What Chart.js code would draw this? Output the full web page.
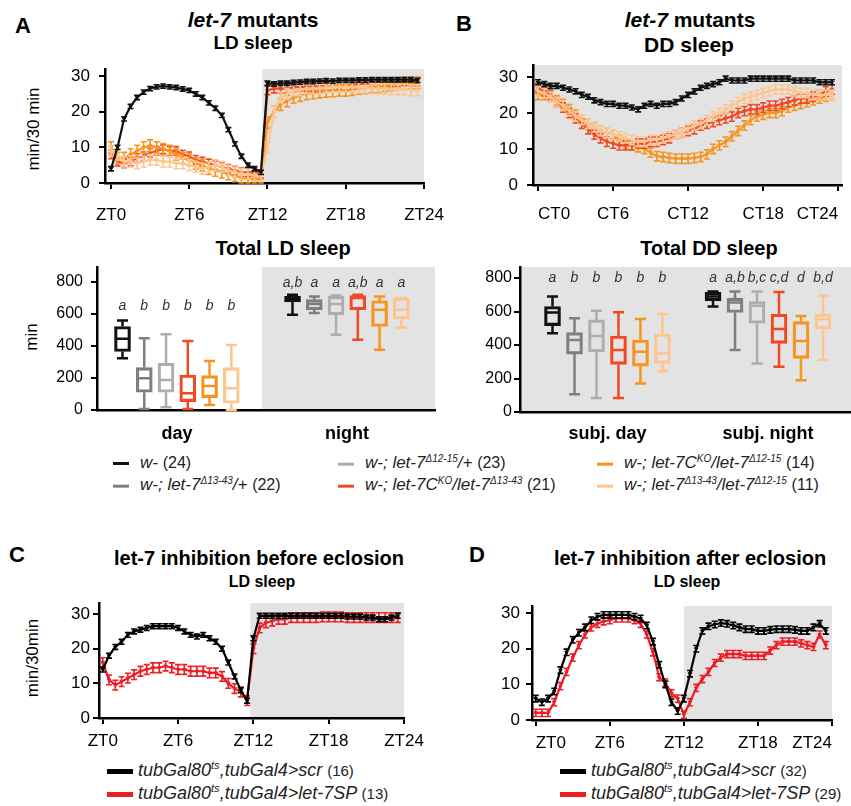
<!DOCTYPE html>
<html lang="en">
<head>
<meta charset="UTF-8">
<title>let-7 sleep</title>
<style>
  body { margin: 0; background: #fff; font-family: "Liberation Sans", Arial, sans-serif; color: #000; }
  #fig { position: relative; width: 851px; height: 806px; overflow: hidden; }
  canvas { position: absolute; }
  .t { position: absolute; transform: translate(-50%, -50%); white-space: nowrap; font-weight: bold; }
  .pl { position: absolute; transform: translate(-50%, -50%); font-weight: bold; font-size: 22px; }
  .ylab { position: absolute; transform: translate(-50%, -50%) rotate(-90deg); white-space: nowrap; font-size: 17px; }
  .leg { position: absolute; white-space: nowrap; font-size: 17px; font-style: italic; transform: translateY(-50%); color: #222; }
  .leg .sw { display: inline-block; width: 16px; height: 3px; vertical-align: middle; margin-right: 11px; }
  .leg .n { font-style: normal; font-size: 16px; }
  .leg sup { font-size: 10px; }
  .leg2 { font-size: 18px; }
  .leg2 .sw { width: 26px; height: 5px; margin-right: 5px; }
  .leg2 .n { font-size: 15px; }
  .leg2 sup { font-size: 11px; }
</style>
</head>
<body>
<div id="fig">
  <div class="pl" style="left:23px;top:26px">A</div>
  <div class="t" style="left:253px;top:20px;font-size:21px"><i>let-7</i> mutants</div>
  <div class="t" style="left:253px;top:43px;font-size:19px">LD sleep</div>
  <div class="ylab" style="left:34px;top:129px">min/30 min</div>

  <div class="pl" style="left:464px;top:24px">B</div>
  <div class="t" style="left:690px;top:20px;font-size:21px"><i>let-7</i> mutants</div>
  <div class="t" style="left:689px;top:45px;font-size:21px">DD sleep</div>

  <div class="t" style="left:283px;top:248px;font-size:20px">Total LD sleep</div>
  <div class="ylab" style="left:32px;top:337px">min</div>
  <div class="t" style="left:709px;top:248px;font-size:20px">Total DD sleep</div>

  <div class="leg" style="left:113px;top:463px"><span class="sw" style="background:#111"></span>w- <span class="n">(24)</span></div>
  <div class="leg" style="left:113px;top:485px"><span class="sw" style="background:#7f7f7f"></span>w-; let-7<sup>Δ13-43</sup>/+ <span class="n">(22)</span></div>
  <div class="leg" style="left:338px;top:463px"><span class="sw" style="background:#adadad"></span>w-; let-7<sup>Δ12-15</sup>/+ <span class="n">(23)</span></div>
  <div class="leg" style="left:338px;top:485px"><span class="sw" style="background:#ef4a24"></span>w-; let-7C<sup>KO</sup>/let-7<sup>Δ13-43</sup> <span class="n">(21)</span></div>
  <div class="leg" style="left:597px;top:463px"><span class="sw" style="background:#f7941d"></span>w-; let-7C<sup>KO</sup>/let-7<sup>Δ12-15</sup> <span class="n">(14)</span></div>
  <div class="leg" style="left:597px;top:485px"><span class="sw" style="background:#fdc58f"></span>w-; let-7<sup>Δ13-43</sup>/let-7<sup>Δ12-15</sup> <span class="n">(11)</span></div>

  <div class="pl" style="left:17px;top:555px">C</div>
  <div class="t" style="left:259px;top:558px;font-size:20px">let-7 inhibition before eclosion</div>
  <div class="t" style="left:262px;top:582px;font-size:16px">LD sleep</div>
  <div class="ylab" style="left:33px;top:658px">min/30min</div>
  <div class="leg leg2" style="left:107px;top:770px"><span class="sw" style="background:#000"></span>tubGal80<sup>ts</sup>,tubGal4&gt;scr <span class="n">(16)</span></div>
  <div class="leg leg2" style="left:107px;top:793px"><span class="sw" style="background:#ee1c25"></span>tubGal80<sup>ts</sup>,tubGal4&gt;let-7SP <span class="n">(13)</span></div>

  <div class="pl" style="left:477px;top:555px">D</div>
  <div class="t" style="left:690px;top:558px;font-size:20px">let-7 inhibition after eclosion</div>
  <div class="t" style="left:687px;top:582px;font-size:16px">LD sleep</div>
  <div class="leg leg2" style="left:560px;top:770px"><span class="sw" style="background:#000"></span>tubGal80<sup>ts</sup>,tubGal4&gt;scr <span class="n">(32)</span></div>
  <div class="leg leg2" style="left:560px;top:793px"><span class="sw" style="background:#ee1c25"></span>tubGal80<sup>ts</sup>,tubGal4&gt;let-7SP <span class="n">(29)</span></div>

  <canvas id="lineA"></canvas>
  <canvas id="lineB"></canvas>
  <canvas id="boxA"></canvas>
  <canvas id="boxB"></canvas>
  <canvas id="lineC"></canvas>
  <canvas id="lineD"></canvas>
</div>

<script src="https://cdn.jsdelivr.net/npm/chart.js"></script>
<script>
// half-hour bins
const hours = [0,0.5,1,1.5,2,2.5,3,3.5,4,4.5,5,5.5,6,6.5,7,7.5,8,8.5,9,9.5,10,10.5,11,11.5,
               12,12.5,13,13.5,14,14.5,15,15.5,16,16.5,17,17.5,18,18.5,19,19.5,20,20.5,21,21.5,22,22.5,23,23.5];
const hourTicks = [0, 6, 12, 18, 24];

// A: LD sleep, min/30 min
const ldBlack  = [4,10,18,21.5,24,25.5,26.5,27,27.2,27,26.8,26.4,26,25,24,22.5,21,19,15,11,7.5,5,4,3,
                  28,27.8,28,28,28.2,28.3,28.5,28.5,28.6,28.7,28.6,28.8,28.8,28.8,28.9,28.9,29,29,29,29,29,29,29,28.8];
const ldRed    = [8,6,5.5,6,7,7.5,8.5,9,9.5,9,9,8,7.5,6.5,6,5.5,5,4.5,4,3.5,3,3,3,2.5,
                  26,26.5,26.5,26.5,26.8,27,27,27,27.2,27.2,27.3,27.5,27.3,27.5,27.8,27.8,28,28,28.2,28.2,28.3,28.5,28.5,28.5];
const ldOrange = [10,7,7,8,9,10,10.5,10,9.5,9,8,7,6.5,5.5,5,4,3.5,3,2.5,2,1.5,1,1,1,
                  17,20,22,23,24,24.5,25,25.2,25.5,25.7,25.8,26,26,26.2,26.5,26.7,27,27,27.3,27.5,27.8,28,28,28];
const ldPeach  = [9,8,6,6,5.5,6,6.5,6.5,6,6,5.5,5.5,5,4.5,4,4.5,5,4.5,3.5,3,2.5,2.5,2,2,
                  10,20,24,25,26,26,26.5,26.5,26.5,26.8,27,27,27,27,26.8,26.8,26.5,26.5,26.5,26.3,26.3,26.2,26,26];

// B: DD sleep
const ddBlack  = [28.5,28,27.5,27.5,27,26.5,26,25,24.5,23.5,23,22.5,22.5,22,22,21.5,21,22,22.5,22,22.5,22.5,23,24,
                  25,26,27,27.5,28,28.5,29.5,29,29,29,29.5,29.5,29.5,29.5,29.5,29.5,29.5,29,29,29,29,28.5,28.5,28.5];
const ddRed    = [27,26,25,23,21.5,20,18.5,17,15.5,14,13,12,11.5,11,11,11,11.5,11.5,12,12,12.5,13,14,14.5,
                  15,15.5,16.5,17,17.5,18,18.5,19,20,20.5,21,21,21.5,22,22,22.5,23,23.5,24,24,24.5,25,26,26.5];
const ddOrange = [25,25,24.5,23.5,22.5,21,19.5,18,17,16,15,14.5,14,12.5,11.5,11,10.5,10,9,8,7.8,7.5,7.3,7.3,
                  7.3,7.5,7.8,8.5,10,11,12,13.5,15,16.5,18,19,19.5,20,20,20.5,21.5,22,22.5,23,23.5,24,24.5,25];
const ddPeach  = [26,25.5,24.5,23,22,20.5,19,18,17,16,15,14.5,14,13.5,13,12.5,12,12,12.5,12.5,13,13.5,14,14.5,
                  15.5,16.5,17,18,19,20,21,22,23,24,24.5,25,25.5,26,26.5,26.5,26.5,26,25.5,25.5,25,25,25,25];

// C: inhibition before eclosion
const befScr = [14,18,20.5,22,24,25,25.5,26,26.5,26.5,26.5,26.5,26,25,24,23.5,24,23,22,20,16,12,8,5,
                23,29.5,29.5,29.5,29.5,29.5,29.5,29.5,29.5,29.5,29.5,29.5,29.5,29.5,29.5,29.3,29.3,29.3,29,29,28.5,28.5,29,29.5];
const befSP  = [16,11,9.5,10.5,11.5,12.5,13.5,14,14.5,14.5,15,14.5,14,14,13.5,13.5,13.5,13,13,12,10,8.5,7.5,5,
                20,26,27.5,28,28.5,28.5,29,29,29,29,29,29.2,29.2,29.2,29.2,29,29,29,29,29,29,29,29,29];

// D: inhibition after eclosion
const aftScr = [6,5,6,8,14,19,22.5,24.5,26,28,29,29.5,29.5,29.5,29.5,29.5,29,28.5,26.5,22,15.5,10,5,2.5,
                6,13,20,25,26.3,26.8,27.2,27,26.5,26,25.5,25.5,25,25,25.3,25.5,25.5,25.5,25.3,25,25,26,27,25];
const aftSP  = [2,2,2,5,9.5,13.5,17.5,21,24,26,27,27.7,28,28.5,28.5,28.5,28,27,24,19,12,10.5,7.5,6,
                1.5,5,9,11.5,13.5,16,17.5,18.5,18.5,18.5,18,18,18,18,19.5,21,22,22,22,21.5,21,20.5,24,21];

// box plots, one row per genotype: [min, q1, median, q3, max] in min
const ldDay = [[324,366,445,522,560],[6,111,198,265,449],[17,111,188,292,474],
               [6,52,104,219,432],[31,77,150,215,307],[0,42,136,265,407]];
const ldNight = [[595,675,690,710,720],[606,627,662,690,710],[470,595,662,710,716],
                 [439,627,700,716,720],[376,522,627,683,710],[516,568,627,700,700]];
const ddDay = [[470,516,594,630,690],[106,346,430,474,560],[84,360,454,550,604],
               [84,284,370,454,596],[170,274,360,430,556],[244,290,350,466,586]];
const ddNight = [[630,664,690,714,720],[370,594,654,680,720],[290,530,634,660,720],
                 [270,410,496,584,716],[190,320,424,540,574],[310,496,554,584,696]];
const ldDayTags = ['a','b','b','b','b','b'];
const ldNightTags = ['a,b','a','a','a,b','a','a'];
const ddDayTags = ['a','b','b','b','b','b'];
const ddNightTags = ['a','a,b','b,c','c,d','d','b,d'];

const mutColors = ['#111111','#7f7f7f','#adadad','#ef4a24','#f7941d','#fdc58f'];
const RED = '#ee1c25';
const SHADE = '#e3e3e3';

Chart.defaults.font.family = '"Liberation Sans", Arial, sans-serif';
Chart.defaults.color = '#000';

Chart.register({
  id: 'shade',
  beforeDraw(chart, args, opts) {
    if (opts.from === undefined) return;
    const { ctx, chartArea: a } = chart;
    const x0 = Math.max(a.left, chart.scales.x.getPixelForValue(opts.from));
    ctx.save();
    ctx.fillStyle = SHADE;
    ctx.fillRect(x0, a.top, a.right - x0, a.bottom - a.top);
    ctx.restore();
  }
});

Chart.register({
  id: 'errbars',
  afterDatasetDraw(chart, args) {
    const ds = chart.data.datasets[args.index];
    if (!ds.sem) return;
    const { ctx } = chart;
    const y = chart.scales.y;
    ctx.save();
    ctx.strokeStyle = ds.borderColor;
    ctx.lineWidth = 1.6;
    args.meta.data.forEach((pt, i) => {
      const v = ds.data[i].y;
      const y1 = y.getPixelForValue(v + ds.sem);
      const y2 = y.getPixelForValue(Math.max(0, v - ds.sem));
      ctx.beginPath();
      ctx.moveTo(pt.x, y1); ctx.lineTo(pt.x, y2);
      ctx.moveTo(pt.x - 3, y1); ctx.lineTo(pt.x + 3, y1);
      ctx.moveTo(pt.x - 3, y2); ctx.lineTo(pt.x + 3, y2);
      ctx.stroke();
    });
    ctx.restore();
  }
});

Chart.register({
  id: 'whiskers',
  afterDatasetDraw(chart, args, opts) {
    const ds = chart.data.datasets[args.index];
    if (!ds.stats) return;
    const { ctx } = chart;
    const y = chart.scales.y;
    const p = v => y.getPixelForValue(v);
    ctx.save();
    ctx.strokeStyle = ds.borderColor;
    ctx.lineWidth = 2.5;
    args.meta.data.forEach((bar, i) => {
      const [mn, q1, md, q3, mx] = ds.stats[i];
      const x = bar.x, hw = bar.width / 2 - 1, cw = 5.5;
      ctx.beginPath();
      ctx.moveTo(x, p(mx)); ctx.lineTo(x, p(q3));
      ctx.moveTo(x, p(q1)); ctx.lineTo(x, p(mn));
      ctx.moveTo(x - cw, p(mx)); ctx.lineTo(x + cw, p(mx));
      ctx.moveTo(x - cw, p(mn)); ctx.lineTo(x + cw, p(mn));
      ctx.moveTo(x - hw, p(md)); ctx.lineTo(x + hw, p(md));
      ctx.stroke();
      ctx.fillStyle = '#333';
      ctx.font = 'italic 14px "Liberation Sans", Arial, sans-serif';
      ctx.textAlign = 'center';
      ctx.textBaseline = 'middle';
      ctx.fillText(ds.tags[i], x, p(opts.tagY[i]));
    });
    ctx.restore();
  }
});

function place(id, area, lay) {
  const c = document.getElementById(id);
  c.width = area.r - area.l + lay.yW + lay.padR;
  c.height = area.b - area.t + lay.padT + lay.xH;
  c.style.left = (area.l - lay.yW) + 'px';
  c.style.top = (area.t - lay.padT) + 'px';
  return c;
}

function axisStyle() {
  return {
    grid: { drawOnChartArea: false, tickLength: 6, color: '#000', lineWidth: 2 },
    border: { color: '#000', width: 2.5 }
  };
}

function lineChart(id, area, lay, cfg) {
  const c = place(id, area, lay);
  new Chart(c, {
    type: 'line',
    data: {
      datasets: cfg.series.map(s => ({
        data: hours.map((h, i) => ({ x: h, y: s.values[i] })),
        borderColor: s.color,
        backgroundColor: s.color,
        borderWidth: 2.2,
        pointStyle: 'triangle',
        rotation: 180,
        pointRadius: 2,
        pointBorderWidth: 1,
        sem: s.sem
      }))
    },
    options: {
      responsive: false,
      animation: false,
      layout: { padding: { top: lay.padT, right: lay.padR, left: 0, bottom: 0 } },
      plugins: { legend: { display: false }, tooltip: { enabled: false }, shade: { from: cfg.shadeFrom } },
      scales: {
        x: Object.assign(axisStyle(), {
          type: 'linear', min: cfg.xmin, max: cfg.xmax,
          afterBuildTicks: s => { s.ticks = hourTicks.map(v => ({ value: v })); },
          afterFit: s => { s.height = lay.xH; s.paddingLeft = 0; s.paddingRight = 0; },
          ticks: { callback: v => cfg.prefix + v, font: { size: 17 }, padding: lay.xPad,
                   maxRotation: 0, autoSkip: false, align: cfg.align || 'center' }
        }),
        y: Object.assign(axisStyle(), {
          min: 0, max: cfg.ymax,
          afterBuildTicks: s => { s.ticks = [0, 10, 20, 30].map(v => ({ value: v })); },
          afterFit: s => { s.width = lay.yW; s.paddingTop = 0; s.paddingBottom = 0; },
          ticks: { font: { size: 17 }, padding: lay.yPad }
        })
      }
    }
  });
}

function boxChart(id, area, lay, cfg) {
  const c = place(id, area, lay);
  const offs = [-2.5, -1.5, -0.5, 0.5, 1.5, 2.5];
  new Chart(c, {
    type: 'bar',
    data: {
      datasets: mutColors.map((col, k) => ({
        data: [
          { x: 1 + offs[k] * cfg.slot, y: [cfg.day[k][1], cfg.day[k][3]] },
          { x: 2 + offs[k] * cfg.slot, y: [cfg.night[k][1], cfg.night[k][3]] }
        ],
        stats: [cfg.day[k], cfg.night[k]],
        tags: [cfg.dayTags[k], cfg.nightTags[k]],
        borderColor: col,
        backgroundColor: 'rgba(0,0,0,0)',
        borderWidth: 2.5,
        borderSkipped: false,
        barThickness: 16,
        grouped: false
      }))
    },
    options: {
      responsive: false,
      animation: false,
      layout: { padding: { top: lay.padT, right: lay.padR, left: 0, bottom: 0 } },
      plugins: {
        legend: { display: false }, tooltip: { enabled: false },
        shade: { from: cfg.shadeFrom }, whiskers: { tagY: cfg.tagY }
      },
      scales: {
        x: {
          type: 'linear', min: cfg.xmin, max: cfg.xmax, offset: false,
          grid: { display: false, drawTicks: false },
          border: { color: '#000', width: 2.5 },
          afterBuildTicks: s => { s.ticks = [{ value: 1 }, { value: 2 }]; },
          afterFit: s => { s.height = lay.xH; s.paddingLeft = 0; s.paddingRight = 0; },
          ticks: { callback: (v, i) => cfg.groups[i], font: { size: 18, weight: 'bold' }, padding: lay.xPad, maxRotation: 0 }
        },
        y: Object.assign(axisStyle(), {
          min: 0, max: cfg.ymax,
          afterBuildTicks: s => { s.ticks = [0, 200, 400, 600, 800].map(v => ({ value: v })); },
          afterFit: s => { s.width = lay.yW; s.paddingTop = 0; s.paddingBottom = 0; },
          ticks: { font: { size: 16 }, padding: lay.yPad }
        })
      }
    }
  });
}

lineChart('lineA', { l: 105, t: 69, r: 424, b: 183 },
  { yW: 65, padT: 14, padR: 24, xH: 45, xPad: 16, yPad: 9 },
  { xmin: -0.46, xmax: 24, ymax: 32, prefix: 'ZT', shadeFrom: 11.6, series: [
    { values: ldBlack, color: '#111111', sem: 0.6 },
    { values: ldPeach, color: mutColors[5], sem: 1.5 },
    { values: ldOrange, color: mutColors[4], sem: 1.6 },
    { values: ldRed, color: mutColors[3], sem: 1.2 }
  ] });

lineChart('lineB', { l: 533, t: 65, r: 842, b: 185 },
  { yW: 63, padT: 12, padR: 9, xH: 45, xPad: 13, yPad: 9 },
  { xmin: -0.4, xmax: 24.3, ymax: 33.3, prefix: 'CT', shadeFrom: -1, align: 'inner', series: [
    { values: ddBlack, color: '#111111', sem: 0.7 },
    { values: ddPeach, color: mutColors[5], sem: 1.3 },
    { values: ddRed, color: mutColors[3], sem: 1.3 },
    { values: ddOrange, color: mutColors[4], sem: 1.3 }
  ] });

boxChart('boxA', { l: 97, t: 267, r: 435, b: 410 },
  { yW: 55, padT: 10, padR: 6, xH: 38, xPad: 13, yPad: 8 },
  { xmin: 0.53, xmax: 2.518, slot: 0.128, ymax: 894, shadeFrom: 1.5,
    day: ldDay, night: ldNight, dayTags: ldDayTags, nightTags: ldNightTags,
    tagY: [650, 795], groups: ['day', 'night'] });

boxChart('boxB', { l: 520, t: 267, r: 851, b: 412 },
  { yW: 52, padT: 10, padR: 0, xH: 38, xPad: 11, yPad: 2 },
  { xmin: 0.455, xmax: 2.517, slot: 0.137, ymax: 866, shadeFrom: 0,
    day: ddDay, night: ddNight, dayTags: ddDayTags, nightTags: ddNightTags,
    tagY: [800, 800], groups: ['subj. day', 'subj. night'] });

lineChart('lineC', { l: 99, t: 603, r: 404, b: 718 },
  { yW: 59, padT: 12, padR: 25, xH: 40, xPad: 7, yPad: 3 },
  { xmin: -0.3, xmax: 24, ymax: 33.2, prefix: 'ZT', shadeFrom: 11.75, series: [
    { values: befScr, color: '#000000', sem: 0.7 },
    { values: befSP, color: RED, sem: 1.4 }
  ] });

lineChart('lineD', { l: 532, t: 606, r: 832, b: 720 },
  { yW: 62, padT: 12, padR: 19, xH: 40, xPad: 7, yPad: 6 },
  { xmin: -0.3, xmax: 24, ymax: 32, prefix: 'ZT', shadeFrom: 12, align: 'inner', series: [
    { values: aftScr, color: '#000000', sem: 0.9 },
    { values: aftSP, color: RED, sem: 1.0 }
  ] });
</script>
</body>
</html>
